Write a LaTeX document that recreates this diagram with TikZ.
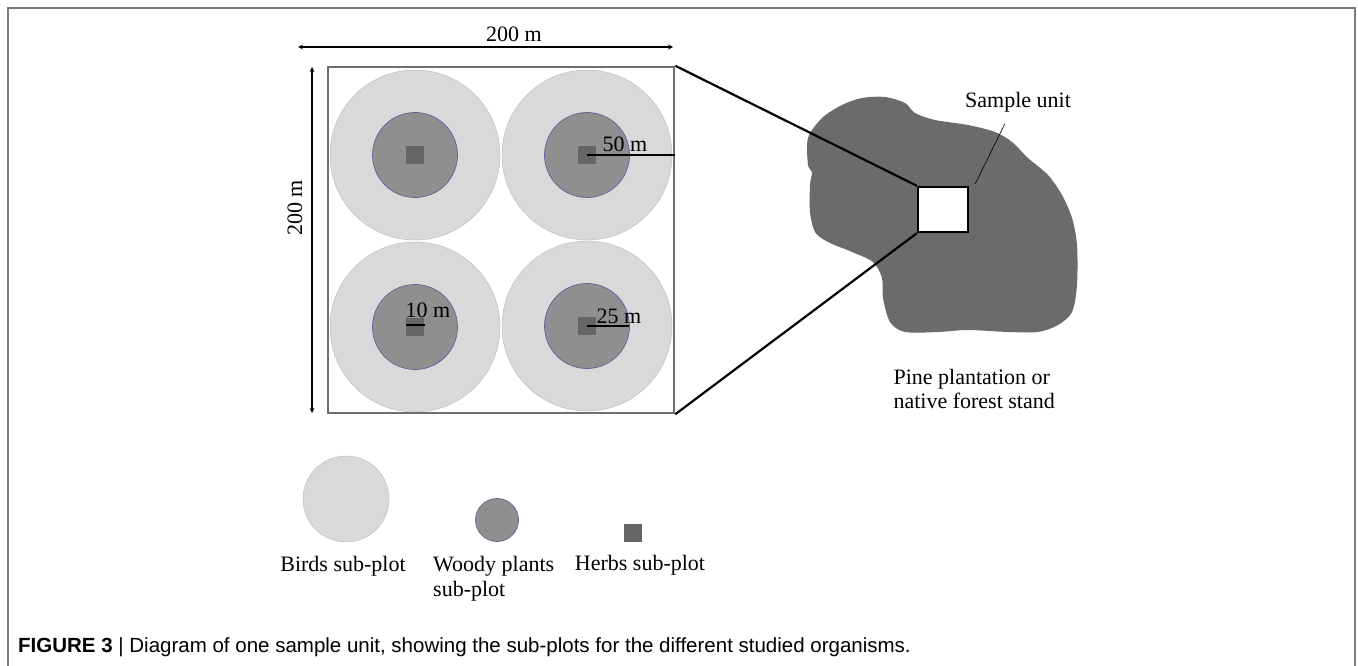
\documentclass[tikz,border=0pt]{standalone}
\usepackage{fontspec}
\setmainfont{Liberation Serif}
\newfontfamily\capfont{Liberation Sans}
\usetikzlibrary{arrows,positioning,calc}
\definecolor{birdgray}{HTML}{D9D9D9}
\definecolor{woodygray}{HTML}{8F8F8F}
\definecolor{herbgray}{HTML}{666666}
\definecolor{standgray}{HTML}{6B6B6B}
\definecolor{plotgray}{HTML}{6E6E6E}
\definecolor{framegray}{HTML}{7A7A7A}
\definecolor{woodyline}{HTML}{6A5A9A}

\begin{document}
\begin{tikzpicture}[x=1pt, y=-1pt, font=\fontsize{22}{24}\selectfont, >=stealth]
\useasboundingbox (0,0) rectangle (1358,666);
\draw[framegray, line width=2pt] (8,666) -- (8,8) -- (1355,8) -- (1355,666);
% sub-plots
\foreach \cx/\cy in {415/155, 587/155, 415/327, 587/326} {
  \draw[birdgray!85!black, line width=0.4pt, fill=birdgray] (\cx,\cy) circle (85);
  \draw[woodyline, line width=0.7pt, fill=woodygray] (\cx,\cy) circle (42.5);
  \fill[herbgray] (\cx-9,\cy-9) rectangle (\cx+9,\cy+9);
}
\node[draw=plotgray, line width=2.5pt, minimum size=346pt, inner sep=0pt] (plot) at (501,240) {};
% radii
\draw[line width=1.5pt] (587,155) -- (plot.east |- 0,155);
\node[anchor=base] (r50) at (625,152) {50 m};
\draw[line width=1.5pt] (587,326) -- (629,326);
\node[anchor=base] (r25) at (619,323) {25 m};
\draw[line width=2pt] (406,325) -- (425,325);
\node[anchor=base] (r10) at (428,317) {10 m};
% dimensions
\coordinate (dl) at (298,47);
\coordinate (dr) at (673,47);
\draw[<->, line width=1.2pt] (dl) -- (dr);
\node (wlbl) at (514,34) {200 m};
\coordinate (dt) at (312,67);
\coordinate (db) at (312,413);
\draw[<->, line width=1.2pt] (dt) -- (db);
\node[rotate=90] (hlbl) at (295,208) {200 m};
% stand
\fill[standgray] plot[smooth cycle, tension=0.5] coordinates {
  (842,105) (862,98) (885,97) (905,103) (915,113) (935,120) (968,125)
  (995,132) (1012,142) (1028,158) (1048,175) (1062,195) (1072,218)
  (1077,245) (1077,285) (1072,312) (1058,325) (1038,332) (1008,332)
  (968,330) (938,332) (905,332) (890,322) (883,298) (882,278) (873,262)
  (852,252) (828,242) (815,232) (810,212) (810,185) (812,172) (808,165)
  (808,138) (822,118)};
\node[draw=black, fill=white, line width=2.5pt, minimum width=50pt, minimum height=45pt, inner sep=0pt] (unit) at (943,209.5) {};
\draw[line width=2.2pt] (plot.north east) -- (unit.north west);
\draw[line width=2.2pt] (plot.south east) -- (unit.south west);
\node (unitlbl) at (1018,102) {Sample unit};
\draw[line width=0.6pt] ([xshift=-13pt,yshift=-8pt]unitlbl.south) -- ([xshift=6pt,yshift=2pt]unit.north east);
\node[anchor=west, align=left] (standlbl) at (890,389) {Pine plantation or\\native forest stand};
% legend
\draw[birdgray!85!black, line width=0.4pt, fill=birdgray] (346,499) circle (43);
\draw[woodyline, line width=0.7pt, fill=woodygray] (497,520) circle (21.5);
\node[fill=herbgray, minimum size=18pt, inner sep=0pt] (herb) at (633,533) {};
\node (birdlbl) at (343,566) {Birds sub-plot};
\node[anchor=north west, align=left, inner sep=0pt, font=\fontsize{22}{25}\selectfont] (woodylbl) at (433,556) {Woody plants\\sub-plot};
\node (herblbl) at (640,565) {Herbs sub-plot};
% caption
\node[anchor=base west, inner sep=0pt, font=\capfont\fontsize{20.5}{24}\selectfont] (caption) at (18,652)
  {\textbf{FIGURE 3} | Diagram of one sample unit, showing the sub-plots for the different studied organisms.};
\end{tikzpicture}
\end{document}
